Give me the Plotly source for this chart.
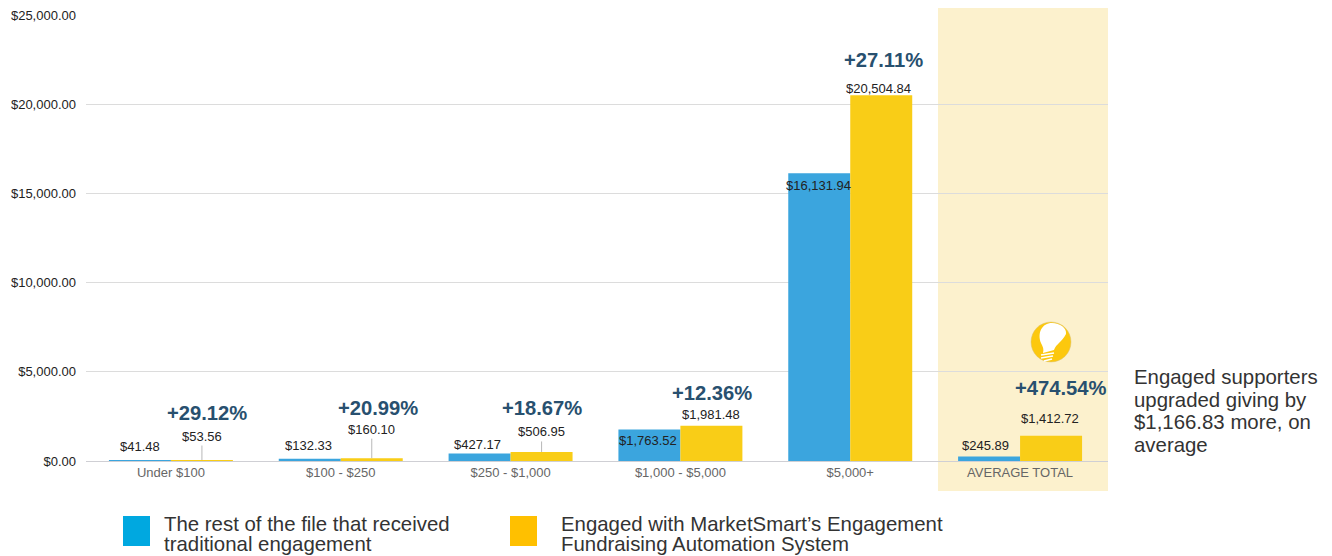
import plotly.graph_objects as go

W, H = 1332, 556
PLOT_L, PLOT_R, PLOT_T, PLOT_B = 86, 1108, 15, 461

categories = ["Under $100", "$100 - $250", "$250 - $1,000", "$1,000 - $5,000", "$5,000+", "AVERAGE TOTAL"]
traditional = [41.48, 132.33, 427.17, 1763.52, 16131.94, 245.89]
engaged = [53.56, 160.10, 506.95, 1981.48, 20504.84, 1412.72]
lift_labels = ["+29.12%", "+20.99%", "+18.67%", "+12.36%", "+27.11%", "+474.54%"]
y_ticks = [0, 5000, 10000, 15000, 20000, 25000]

name_traditional = "The rest of the file that received traditional engagement"
name_engaged = "Engaged with MarketSmart\u2019s Engagement Fundraising Automation System"
legend_lines = [["The rest of the file that received", "traditional engagement"],
                ["Engaged with MarketSmart\u2019s Engagement", "Fundraising Automation System"]]
side_note = ["Engaged supporters", "upgraded giving by", "$1,166.83 more, on", "average"]

BLUE, GOLD = "#3ba5de", "#f9cd17"
LEGEND_BLUE, LEGEND_GOLD = "#00a8e0", "#ffc000"
BAND = "#fcf1cd"
LIFT = "#28506f"
FONT = "Liberation Sans"


def px(x):
    return (x - PLOT_L) / (PLOT_R - PLOT_L)


def py(y):
    return (PLOT_B - y) / (PLOT_B - PLOT_T)


fig = go.Figure()
fig.add_bar(x=categories, y=traditional, name=name_traditional, marker_color=BLUE, marker_line_width=0)
fig.add_bar(x=categories, y=engaged, name=name_engaged, marker_color=GOLD, marker_line_width=0)

shapes = [dict(type="rect", xref="paper", yref="paper", x0=px(938), x1=px(1108), y0=py(491), y1=py(8),
               fillcolor=BAND, line_width=0, layer="below")]

# Legend swatches
for x0, colour in ((123, LEGEND_BLUE), (510, LEGEND_GOLD)):
    shapes.append(dict(type="rect", xref="paper", yref="paper", x0=px(x0), x1=px(x0 + 27),
                       y0=py(546), y1=py(516), fillcolor=colour, line_width=0))

# Light bulb badge
shapes.append(dict(type="circle", xref="paper", yref="paper", x0=px(1031), x1=px(1071), y0=py(362), y1=py(322),
                   fillcolor="#fcc80e", line=dict(color="#d9c27a", width=0.5)))
bulb = [("M", 1041, 343), ("C", 1037, 333, 1042, 323, 1052, 323), ("C", 1060, 323, 1067, 328, 1066, 334),
        ("C", 1062, 342, 1056, 344, 1054, 350), ("L", 1043, 353), ("C", 1044, 349, 1043, 347, 1041, 343)]
path = " ".join(p[0] + " " + " ".join(
    f"{px(v) if i % 2 == 0 else py(v):.5f}" for i, v in enumerate(p[1:])) for p in bulb) + " Z"
shapes.append(dict(type="path", xref="paper", yref="paper", path=path, fillcolor="white", line_width=0))
for y0, x0, x1 in ((355, 1041, 1054), (358, 1041, 1053), (361, 1044, 1052)):
    shapes.append(dict(type="line", xref="paper", yref="paper", x0=px(x0), x1=px(x1), y0=py(y0), y1=py(y0 - 2),
                       line=dict(color="white", width=1.5)))

annotations = []


def text_at(x, y, text, size, colour, anchor="center", bold=False):
    annotations.append(dict(xref="paper", yref="paper", x=px(x), y=py(y), text=f"<b>{text}</b>" if bold else text,
                            showarrow=False, xanchor=anchor, yanchor="middle",
                            font=dict(family=FONT, size=size, color=colour)))


# Value labels: offsets in pixels from the bar centre, above the bar top
blue_offsets = [(-31, 14), (-32, 13), (-33, 9), (-32, -11), (-32, -12), (-35, 11)]
gold_offsets = [(31, 24), (31, 29), (31, 20), (31, 11), (28, 7), (30, 17)]
lift_pos = [(207, 413), (378, 408), (542, 408), (712, 393), (883, 60), (1061, 388)]
leaders = (0, 1, 2)

for i, cat in enumerate(categories):
    annotations.append(dict(x=cat, y=traditional[i], xref="x", yref="y", text=f"${traditional[i]:,.2f}",
                            showarrow=False, xshift=blue_offsets[i][0], yshift=blue_offsets[i][1],
                            font=dict(family=FONT, size=13, color="#222222")))
    annotations.append(dict(x=cat, y=engaged[i], xref="x", yref="y", text=f"${engaged[i]:,.2f}",
                            showarrow=False, xshift=gold_offsets[i][0], yshift=gold_offsets[i][1],
                            font=dict(family=FONT, size=13, color="#222222")))
    if i in leaders:
        annotations.append(dict(x=cat, y=engaged[i], xref="x", yref="y", text="", showarrow=True, arrowhead=0,
                                arrowwidth=0.7, arrowcolor="#999999", ax=0, ay=-(gold_offsets[i][1] - 8),
                                xshift=31))
    text_at(*lift_pos[i], lift_labels[i], 20.2, LIFT, bold=True)

for x0, lines in ((162, legend_lines[0]), (559, legend_lines[1])):
    for k, line in enumerate(lines):
        text_at(x0, 523.5 + 20.5 * k, line, 20.4, "#333333", anchor="left")

for k, line in enumerate(side_note):
    text_at(1132, 377 + 22.5 * k, line, 20.4, "#333333", anchor="left")

fig.update_layout(
    width=W, height=H, autosize=False,
    margin=dict(l=PLOT_L, r=W - PLOT_R, t=PLOT_T, b=H - PLOT_B, pad=0),
    barmode="group", bargap=0.27, bargroupgap=0,
    paper_bgcolor="white", plot_bgcolor="rgba(0,0,0,0)",
    showlegend=False, shapes=shapes, annotations=annotations,
    font=dict(family=FONT),
    xaxis=dict(type="category", categoryorder="array", categoryarray=categories, range=[-0.5, 5.5177],
               showgrid=False, showline=False, ticks="", zeroline=False, ticklabelstandoff=2,
               tickfont=dict(family=FONT, size=13, color="#666666")),
    yaxis=dict(range=[0, 25000], tickvals=y_ticks, ticktext=[f"${v:,.2f}" for v in y_ticks],
               gridcolor="#dcdcdc", gridwidth=1, zeroline=True, zerolinecolor="#cfcfd4", zerolinewidth=1,
               showline=False, ticks="", ticklen=0, automargin=False, ticklabelstandoff=9,
               tickfont=dict(family=FONT, size=13, color="#222222")),
)

fig.write_html("out.html", config=dict(displayModeBar=False))
